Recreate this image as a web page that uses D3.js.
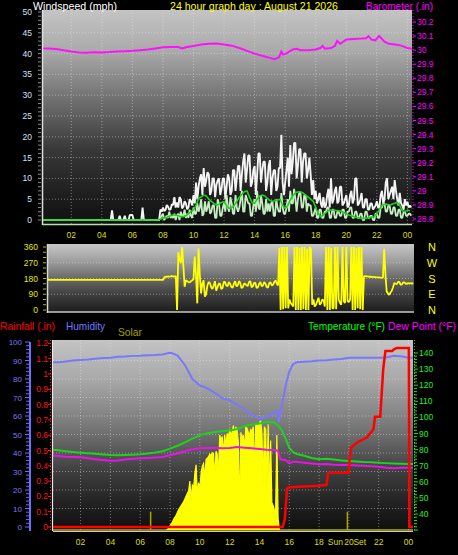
<!DOCTYPE html>
<html><head><meta charset="utf-8">
<script src="https://cdn.jsdelivr.net/npm/d3@7"></script>
<style>
html,body{margin:0;padding:0;background:#000;}
svg{display:block;}
text{font-family:"Liberation Sans",Arial,sans-serif;}
</style></head><body>
<svg id="c" width="458" height="555"></svg>
<script>
// ---------------- DATA ----------------
const timeDomain = [0.15, 24.3];            // hours covered by the graph
const hourTicks = [2,4,6,8,10,12,14,16,18,20,22,24];
const hourTickLabels = ["02","04","06","08","10","12","14","16","18","20","22","00"];
const windStepHours = 1/12;                 // gust / speed samples every 5 minutes from 00:00
const windGust = [0,0,0,0,0,0,0,0,0,0,0,0, 0,0,0,0,0,0,0,0,0,0,0,0, 0,0,0,0,0,0,0,0,0,0,0,0,
  0,0,0,0,0,0,0,0,0,0,0,0, 0,0,0,0,0,0,0,0,2.3,0,0,0, 0,0,1,0,0,0,1,0,0,0,1.2,1.2,
  1.2,0,0,0,0,0,0,0,3,0,0,0, 0,0,0,0,0,0,0,0,0,
  0,2.5,2,
  3,2.2,2.4,3.6,3.2,2.4,2.6,3.8,3.6,5.5,3,4.2,
  3,5.5,5,2.8,3.2,4.5,4,2.6,3,5,4.5,3.5,
  6,4,9,5,8,10,11,6,12.5,8,9.5,11.5,
  11,6,7,10,10,5.5,8.5,9.5,10,6,7.5,10,
  10,5,8,11,10,6,7,12,12,7,10,13,
  13,7,11,14,16,9,12,15.5,15.5,8,9,12,
  13,6,11,16,16,9,12,14,14,7,9,13,
  14.4,6,10,12,12,7,8,12.5,12.5,20.5,9,6,
  9,12,15,8,18,11,14,18.5,18.5,10,13,17,
  17,9,14,16,16,10,12,15,11,6,9.6,5,
  7,4,5,6.5,4,3,5.5,3,3.5,6,7.5,3,
  10,4,5,7,8,4,4.5,8,8,3.5,4,5,
  6,3,3.5,6,7,4,5,10,10,3.5,4,5,
  6.5,3,3,5,5,2.5,2.5,4,4,2.5,3,3.5,
  4.5,3,3,6,7,4,5,9,10,5,6,7,
  8,5,9.6,7,5,3.5,6.5,4,3.5,2.5,5,3.5,
  4.4,3,3.5,3];
const windSpeed = [0,0,0,0,0,0,0,0,0,0,0,0, 0,0,0,0,0,0,0,0,0,0,0,0, 0,0,0,0,0,0,0,0,0,0,0,0,
  0,0,0,0,0,0,0,0,0,0,0,0, 0,0,0,0,0,0,0,0,0.3,0,0,0, 0,0,0,0,0,0,0,0,0,0,0,0,
  0,0,0,0,0,0,0,0,0.5,0,0,0, 0,0,0,0,0,0,0,0,0,
  0,0.5,1,
  1.5,0,0.5,1,0.5,2,0.5,1,0.5,1.5,0,1,
  1.5,0,2,1,1,2.5,0.5,1.5,0.5,2.5,1,0.5,
  3,1.5,1.5,4,2,3,5,1,1.5,4.5,2,3,
  4.5,1.5,2,3.5,3.5,0.5,0.5,5,4,1,1,3,
  4,2,6,3,2,5.5,4,1.5,1.5,6,3,2,
  3,5,7,2,2,6,5,4,4,1,1,3.5,
  5,2,7,3,2.5,6,4,1.5,1.5,5,2,4,
  2,4,4.5,1,1,5,3,2,2,6.5,3,1.5,
  1.5,3,5,2,7,4,4,7.5,5,2,5,6.5,
  6.5,3,3,6,6,2,4,3.5,3.5,1,1,2,
  3,0.5,0.5,2.5,2.5,0.5,0.5,2,2,3,3,0.5,
  0.5,2.5,2.5,0.5,0.5,2,2,1,1,2.5,2.5,0.5,
  0.5,2,2,3,3,0.5,0.5,2,2,0.5,0.5,1.5,
  1.5,0,0,2,2,0.5,0.5,1,1,0,0,1.5,
  1.5,0.5,0.5,3,3,4,4,2,2,3.5,3.5,1.5,
  1.5,3,3,1,1,2.5,2.5,0.5,0.5,2,2,1,
  1,1.5,1.5,1];
const avgStepHours = 1/6;                   // average speed every 10 minutes from 00:00
const windAvg = [0,0,0,0,0,0,0,0,0,0,0,0,0,0,0,0,0,0,0,0,0,0,0,0,0,0,0,0,
  0,0,0,0,0,0,0,0,0,0,0,0,0,0,0,0,0,0,0,
  0.2,0.5,0.5,0.8,1,1.2,1.2,1,0.8,0.8,1,1.5,2,
  2.4,3.5,5.3,5.5,6,5.8,5,4.5,4,3.6,3.8,4.2,
  4.4,3.5,2.8,3,3.5,4.5,5.5,6.2,6.8,7,5.5,4.2,
  4,5,5.8,6,5.8,5.2,4.7,4.5,4.6,4.8,5,3.5,
  2.8,3.5,4.8,5.8,6.5,6.8,6.8,6.5,6,5.5,5,4.5,
  3,1.5,0.8,1.2,1.8,2.3,2.4,2.4,2.3,2.2,2.1,1.8,
  1.5,1.2,1,0.8,0.6,0.5,0.4,0.4,0.5,0.6,0.7,0.8,
  1.5,2.5,3.5,3.8,3.8,3.6,3.8,4,4.2,3.5,2.2,2,
  2.4,2.2];
const dirCalmValue = 172;                   // steady direction before the wind picked up
const dirStart = 7.75, dirStepHours = 1/12; // 5-minute direction samples
const windDir = [172,188,190,
  190,192,190,192,195,190,192,194,0,330,290,268,
  360,250,133,170,165,160,158,165,170,175,305,200,
  38,352,200,95,150,170,76,90,140,160,155,130,
  120,140,165,110,130,150,150,120,125,160,160,140,
  135,160,150,130,128,150,165,135,140,165,155,125,
  130,150,150,140,138,160,165,130,135,155,155,125,
  130,150,160,135,140,160,150,130,128,155,158,140,
  145,160,170,150,140,354,0,360,5,360,10,360,
  10,60,40,30,20,360,0,360,0,355,0,360,
  5,360,0,350,0,360,350,30,60,20,30,50,
  70,30,40,60,55,20,360,0,360,0,355,10,
  10,360,5,360,60,40,30,360,50,40,360,50,
  45,60,360,0,360,0,355,10,360,5,360,0,
  194,193,192,192,190,190,189,189,188,188,187,187,
  186,185,185,184,350,200,105,95,86,100,110,130,
  155,150,148,160,160,145,145,158,158,150,150,155,
  150,155,150,155];
const baroTimes = [0,0.5,1,1.5,2,2.5,3,3.5,4,4.5,5,5.5,6,6.5,7,7.5,8,8.5,9,9.25,9.5,10,10.5,11,11.5,12,12.5,13,13.5,14,14.5,15,15.3,15.6,15.75,15.85,16,16.5,16.75,17,17.5,18,18.3,18.45,18.6,19,19.25,19.4,19.6,20,20.5,21,21.3,21.45,21.65,21.9,22.15,22.5,22.8,23.2,23.6,24,24.3];
const baroValues = [30.012,30.012,30.008,30.0,29.99,29.984,29.982,29.985,29.984,29.986,29.99,29.992,29.995,30.0,30.005,30.012,30.02,30.022,30.022,30.012,30.02,30.03,30.04,30.045,30.047,30.04,30.032,30.015,29.995,29.975,29.96,29.945,29.935,29.95,29.99,29.97,29.972,30.005,30.01,30.0,30.0,30.005,30.015,30.03,30.01,30.015,30.03,30.065,30.045,30.075,30.08,30.082,30.085,30.10,30.075,30.07,30.10,30.06,30.045,30.04,30.032,30.015,30.01];
const humTimes = [0,0.5,1,1.5,2,2.5,3,3.5,4,4.5,5,5.5,6,6.5,7,7.5,7.9,8.1,8.5,9,9.5,10,10.5,11,11.5,12,12.5,13,13.5,14,14.5,15,15.2,15.3,15.4,15.6,15.8,16,16.25,16.5,17,17.5,18,18.5,19,19.5,20,20.5,21,21.5,22,22.5,23,23.5,24,24.3];
const humValues = [89,89,89.5,90,90.3,90.5,91,91.3,91.5,92,92.2,92.5,92.6,92.8,93,93.3,94,94,92.6,87.6,80,76.5,75,72.5,69.5,68.6,66,63.5,60.5,58.5,59.6,61.5,63,56.5,62,70,78,84,88,89,89.3,89.6,90,90.2,90.5,90.8,91.5,91.5,91.5,91.5,91.5,91.6,92.6,92.3,91.5,91.5];
const tempTimes = [0,0.5,1,1.5,2,2.5,3,3.5,4,4.5,5,5.5,6,6.5,7,7.5,8,8.5,9,9.5,10,10.5,11,11.5,12,12.5,13,13.5,14,14.5,15,15.25,15.5,15.75,16,16.25,16.5,17,17.5,18,18.5,19,19.5,20,20.5,21,21.5,22,22.5,23,23.5,24,24.3];
const tempValues = [80,79.6,79,78.5,78.1,77.8,77.4,77,76.6,76.5,76.6,76.8,77.1,77.6,78.2,79,80.6,82.4,84.5,86.8,89,90.2,90.9,91.4,91.8,92.8,94.5,95.6,96.2,97.3,96.8,95,92,87,81,78.5,77.3,76.2,74.8,74,74.3,73.8,73.3,72.9,72.6,72.3,72.2,71.9,71.6,71.4,71.2,71.1,71.1];
const dewTimes = [0,0.5,1,1.5,2,2.5,3,3.5,4,4.5,5,5.5,6,6.5,7,7.5,8,8.5,9,9.5,10,10.5,11,11.5,12,12.5,13,13.5,14,14.5,15,15.25,15.4,15.75,16,16.25,16.5,17,17.5,18,18.5,19,19.5,20,20.5,21,21.5,22,22.5,23,23.5,24,24.3];
const dewValues = [76.2,76,75.6,75.4,75.2,74.6,74,73.5,73.1,73.3,73.8,74.3,74.6,74.8,75.1,75.4,76.5,77.6,79,80.2,80.8,81,81,80.8,81,81.6,81.2,80.8,80.4,79.9,79.8,79.3,74,73.5,71.5,72.5,72.4,71.8,71.3,70.9,71,70.6,70.5,70.4,70.2,70,69.6,69.4,68.8,68.4,68.8,68.8,68.8];
const rainTimes = [0.15,15.55,15.7,15.85,16.0,17.0,18.0,18.5,18.6,18.7,20.0,20.05,20.15,20.6,21.2,21.5,21.65,21.75,22.1,22.2,22.3,22.45,22.9,23.0,23.2,24.02,24.06,24.3];
const rainValues = [0,0,0.05,0.25,0.26,0.265,0.27,0.275,0.35,0.355,0.355,0.45,0.52,0.555,0.585,0.62,0.64,0.72,0.72,0.87,1.03,1.15,1.15,1.16,1.17,1.17,0,0];
const solarStart = 7.75, solarStepHours = 1/12;   // 5-minute samples
const solarValues = [0,5,15,30,45,60,80,95,110,130,
  150,165,180,195,210,230,250,270,290,360,
  220,330,310,420,480,250,350,300,420,470,
  490,380,520,530,540,560,545,570,565,380,
  580,560,400,700,660,690,560,700,620,712,
  680,740,700,720,770,690,760,730,650,130,
  720,670,700,600,760,750,720,700,740,730,
  760,420,770,780,760,790,800,710,330,760,
  740,310,780,250,660,200,180,150,130,700,
  90,0];
const sunEvents = [6.7, 19.9];   // sunrise / sunset markers
const windTicks = [0,5,10,15,20,25,30,35,40,45,50];
const baroTicks = [28.8,28.9,29.0,29.1,29.2,29.3,29.4,29.5,29.6,29.7,29.8,29.9,30.0,30.1,30.2];
const dirTicks = [0,90,180,270,360];
const compassLabels = ["N","E","S","W","N"];
const humTicks = [0,10,20,30,40,50,60,70,80,90,100];
const rainTicks = [0,0.1,0.2,0.3,0.4,0.5,0.6,0.7,0.8,0.9,1.0,1.1,1.2];
const tempTicks = [40,50,60,70,80,90,100,110,120,130,140];

// ---------------- LAYOUT ----------------
const TOP = {x0:43, x1:412, y0:10, y1:225};
const MID = {x0:48, x1:414, y0:244, y1:312};
const BOT = {x0:53, x1:413, y0:340, y1:531};

const svg = d3.select("#c");
svg.append("rect").attr("width",458).attr("height",555).attr("fill","#000");
const defs = svg.append("defs");
function grad(id, stops){
  const g = defs.append("linearGradient").attr("id",id).attr("x1",0).attr("y1",0).attr("x2",0).attr("y2",1);
  stops.forEach(([o,c])=>g.append("stop").attr("offset",o).attr("stop-color",c));
}
grad("gTop", [[0,"#c4c4c4"],[0.19,"#aaaaaa"],[0.4,"#747474"],[0.65,"#383838"],[0.88,"#1c1c1c"],[1,"#101010"]]);
grad("gMid", [[0,"#c8c8c8"],[0.26,"#9c9c9c"],[0.5,"#6a6a6a"],[0.74,"#404040"],[1,"#1c1c1c"]]);
grad("gBot", [[0,"#c4c4c4"],[0.21,"#a8a8a8"],[0.47,"#747474"],[0.68,"#404040"],[0.84,"#242424"],[1,"#0e0e0e"]]);
function clip(id, P){
  defs.append("clipPath").attr("id",id).append("rect")
    .attr("x",P.x0).attr("y",P.y0).attr("width",P.x1-P.x0).attr("height",P.y1-P.y0);
}
clip("cTop",TOP); clip("cMid",MID); clip("cBot",BOT);

// scales
const xTop = d3.scaleLinear().domain(timeDomain).range([TOP.x0, TOP.x1]);
const xMid = d3.scaleLinear().domain(timeDomain).range([MID.x0, MID.x1]);
const xBot = d3.scaleLinear().domain(timeDomain).range([BOT.x0, BOT.x1]);
const yWind = d3.scaleLinear().domain([0,50]).range([220,12]);
const yBaro = d3.scaleLinear().domain([28.8,30.2]).range([219,22]);
const yDir = d3.scaleLinear().domain([0,360]).range([310,247]);
const yHum = d3.scaleLinear().domain([0,100]).range([527,342]);
const yRain = d3.scaleLinear().domain([0,1.2]).range([527,343.4]);
const yTemp = d3.scaleLinear().domain([40,140]).range([514,353]);
const ySolar = d3.scaleLinear().domain([0,1400]).range([530,340]);

const gridCol = "#e8e8e8";
function panelBg(P, g){
  svg.append("rect").attr("x",P.x0).attr("y",P.y0).attr("width",P.x1-P.x0).attr("height",P.y1-P.y0).attr("fill",`url(#${g})`);
}
function hGrid(P, ys){
  svg.append("g").selectAll("line").data(ys).join("line")
    .attr("x1",P.x0).attr("x2",P.x1).attr("y1",d=>d).attr("y2",d=>d)
    .attr("stroke",gridCol).attr("stroke-opacity",0.45).attr("stroke-dasharray","1,2");
}
function vGrid(P, x){
  svg.append("g").selectAll("line").data(hourTicks).join("line")
    .attr("x1",d=>x(d)).attr("x2",d=>x(d)).attr("y1",P.y0).attr("y2",P.y1)
    .attr("stroke",gridCol).attr("stroke-opacity",0.45).attr("stroke-dasharray","1,2");
}
function xLabels(x, y){
  svg.append("g").selectAll("text").data(hourTicks).join("text")
    .attr("x",d=>x(d)).attr("y",y).attr("text-anchor","middle")
    .attr("font-size",8.5).attr("fill","#dede00").text((d,i)=>hourTickLabels[i]);
}
function title(x, y, txt, col, len, size){
  return svg.append("text").attr("x",x).attr("y",y).attr("font-size",size||11).attr("fill",col)
    .attr("textLength",len).attr("lengthAdjust","spacingAndGlyphs").text(txt);
}
function seriesXY(times, vals){ return times.map((t,i)=>[t, vals[i]]); }
const stepped = (vals, start, step) => vals.map((v,i)=>[start + i*step, v]);

// ---------------- TOP PANEL: wind + barometer ----------------
panelBg(TOP,"gTop");
hGrid(TOP, windTicks.filter(d=>d>0&&d<50).map(yWind));
vGrid(TOP, xTop);
const gTop = svg.append("g").attr("clip-path","url(#cTop)");
const lineTop = d3.line().x(d=>xTop(d[0])).y(d=>yWind(d[1]));
gTop.append("path").attr("d",lineTop(stepped(windGust,0,windStepHours))).attr("fill","none").attr("stroke","#f4f4f4").attr("stroke-width",1.9).attr("stroke-linejoin","bevel");
gTop.append("path").attr("d",lineTop(stepped(windSpeed,0,windStepHours))).attr("fill","none").attr("stroke","#c4eec0").attr("stroke-width",1.8).attr("stroke-linejoin","bevel");
gTop.append("path").attr("d",lineTop(stepped(windAvg,0,avgStepHours))).attr("fill","none").attr("stroke","#1ed01e").attr("stroke-width",1.6);
const lineBaro = d3.line().x(d=>xTop(d[0])).y(d=>yBaro(d[1]));
gTop.append("path").attr("d",lineBaro(seriesXY(baroTimes,baroValues))).attr("fill","none").attr("stroke","#ff10ff").attr("stroke-width",2);
// frame
svg.append("line").attr("x1",TOP.x0-0.5).attr("x2",TOP.x0-0.5).attr("y1",TOP.y0).attr("y2",TOP.y1).attr("stroke","#e0e0e0").attr("stroke-width",1.5);
svg.append("line").attr("x1",TOP.x0).attr("x2",TOP.x1).attr("y1",TOP.y1-0.5).attr("y2",TOP.y1-0.5).attr("stroke","#b8e0b8").attr("stroke-width",1.5);
// wind axis
svg.append("g").selectAll("line").data(d3.range(0,51,1)).join("line")
  .attr("x1",38).attr("x2",41).attr("y1",d=>yWind(d)).attr("y2",d=>yWind(d)).attr("stroke","#8a8a8a");
svg.append("g").selectAll("text").data(windTicks).join("text")
  .attr("x",32).attr("y",d=>yWind(d)+3).attr("text-anchor","end").attr("font-size",8.5)
  .attr("fill","#d4e0ff").text(d=>d);
// baro axis
svg.append("line").attr("x1",TOP.x1+1).attr("x2",TOP.x1+1).attr("y1",TOP.y0).attr("y2",TOP.y1)
  .attr("stroke","#ff00ff").attr("stroke-dasharray","1,2");
svg.append("g").selectAll("line").data(baroTicks).join("line")
  .attr("x1",TOP.x1+1).attr("x2",TOP.x1+4).attr("y1",d=>yBaro(d)).attr("y2",d=>yBaro(d)).attr("stroke","#ff00ff");
svg.append("g").selectAll("text").data(baroTicks).join("text")
  .attr("x",417).attr("y",d=>yBaro(d)+3).attr("font-size",8.5).attr("fill","#ff00ff")
  .text(d=>String(+d.toFixed(1)));
xLabels(xTop, 238);
title(33, 10, "Windspeed (mph)", "#ffffff", 84);
title(170, 10, "24 hour graph day : August 21 2026", "#ffff00", 168);
title(366, 10, "Barometer (.in)", "#ff00ff", 67);

// ---------------- MIDDLE PANEL: wind direction ----------------
panelBg(MID,"gMid");
hGrid(MID, [90,180,270].map(yDir));
const gMid = svg.append("g").attr("clip-path","url(#cMid)");
const lineDir = d3.line().x(d=>xMid(d[0])).y(d=>yDir(d[1]));
const dirSeries = [[timeDomain[0], dirCalmValue]].concat(stepped(windDir, dirStart, dirStepHours));
gMid.append("path").attr("d",lineDir(dirSeries)).attr("fill","none").attr("stroke","#ffff00").attr("stroke-width",1.8).attr("stroke-linejoin","bevel");
svg.append("line").attr("x1",MID.x0-0.5).attr("x2",MID.x0-0.5).attr("y1",MID.y0).attr("y2",MID.y1+1).attr("stroke","#d8d8d8").attr("stroke-width",1.5);
svg.append("line").attr("x1",MID.x0).attr("x2",MID.x1).attr("y1",MID.y1).attr("y2",MID.y1).attr("stroke","#c8c8c8").attr("stroke-width",1.5);
svg.append("g").selectAll("line").data(d3.range(0,361,30)).join("line")
  .attr("x1",43).attr("x2",46).attr("y1",d=>yDir(d)).attr("y2",d=>yDir(d)).attr("stroke","#b8b800");
svg.append("g").selectAll("text").data(dirTicks).join("text")
  .attr("x",38).attr("y",d=>yDir(d)+3).attr("text-anchor","end").attr("font-size",8.5)
  .attr("fill","#e6e600").text(d=>d);
svg.append("g").selectAll("text").data(dirTicks).join("text")
  .attr("x",432).attr("y",d=>yDir(d)+4).attr("text-anchor","middle").attr("font-size",11)
  .attr("fill","#ffff00").text((d,i)=>compassLabels[i]);

// ---------------- BOTTOM PANEL ----------------
panelBg(BOT,"gBot");
hGrid(BOT, humTicks.filter(d=>d>0&&d<100).map(yHum));
vGrid(BOT, xBot);
const gBot = svg.append("g").attr("clip-path","url(#cBot)");
const solarSeries = [[timeDomain[0],0]].concat(stepped(solarValues, solarStart, solarStepHours), [[timeDomain[1],0]]);
gBot.append("path").attr("d", d3.area().x(d=>xBot(d[0])).y0(ySolar(0)).y1(d=>ySolar(d[1]))(solarSeries))
  .attr("fill","#ffff00").attr("stroke","#ffff00").attr("stroke-width",1.2);
gBot.append("g").selectAll("line").data(sunEvents).join("line")
  .attr("x1",d=>xBot(d)).attr("x2",d=>xBot(d)).attr("y1",ySolar(0)).attr("y2",ySolar(135))
  .attr("stroke","#a8a800").attr("stroke-width",1.5);
const lb = (ys) => d3.line().x(d=>xBot(d[0])).y(d=>ys(d[1]));
gBot.append("path").attr("d",lb(yHum)(seriesXY(humTimes,humValues))).attr("fill","none").attr("stroke","#7878ff").attr("stroke-width",2);
gBot.append("path").attr("d",lb(yTemp)(seriesXY(dewTimes,dewValues))).attr("fill","none").attr("stroke","#e614e6").attr("stroke-width",2);
gBot.append("path").attr("d",lb(yTemp)(seriesXY(tempTimes,tempValues))).attr("fill","none").attr("stroke","#1ed21e").attr("stroke-width",2);
gBot.append("path").attr("d",lb(yRain)(seriesXY(rainTimes,rainValues))).attr("fill","none").attr("stroke","#ff0000").attr("stroke-width",2.5);
// frame
svg.append("line").attr("x1",BOT.x0-0.5).attr("x2",BOT.x0-0.5).attr("y1",BOT.y0).attr("y2",BOT.y1).attr("stroke","#e8e8e8").attr("stroke-width",1.2);
svg.append("line").attr("x1",BOT.x0).attr("x2",BOT.x1).attr("y1",BOT.y1+0.5).attr("y2",BOT.y1+0.5).attr("stroke","#c8c8c8").attr("stroke-width",1);
// humidity axis
svg.append("line").attr("x1",30).attr("x2",30).attr("y1",342).attr("y2",BOT.y1).attr("stroke","#6e6eff").attr("stroke-width",2);
svg.append("g").selectAll("line").data(d3.range(0,101,2)).join("line")
  .attr("x1",d=>d%10===0?25:26).attr("x2",30).attr("y1",d=>yHum(d)).attr("y2",d=>yHum(d)).attr("stroke","#6e6eff");
svg.append("g").selectAll("text").data(humTicks).join("text")
  .attr("x",22).attr("y",d=>yHum(d)+3).attr("text-anchor","end").attr("font-size",8)
  .attr("fill","#7878ff").text(d=>d);
// rain axis
svg.append("line").attr("x1",50.5).attr("x2",50.5).attr("y1",BOT.y0).attr("y2",BOT.y1).attr("stroke","#ff2020").attr("stroke-dasharray","1,2");
svg.append("g").selectAll("line").data(rainTicks).join("line")
  .attr("x1",48).attr("x2",51).attr("y1",d=>yRain(d)).attr("y2",d=>yRain(d)).attr("stroke","#ff2020");
svg.append("g").selectAll("text").data(rainTicks).join("text")
  .attr("x",48).attr("y",d=>yRain(d)+3).attr("text-anchor","end").attr("font-size",8.5)
  .attr("fill","#ff1010").text(d=>String(+d.toFixed(1)));
// temperature axis
svg.append("line").attr("x1",414.5).attr("x2",414.5).attr("y1",BOT.y0).attr("y2",BOT.y1).attr("stroke","#20e020").attr("stroke-dasharray","1,2");
svg.append("g").selectAll("line").data(d3.range(30,141,2)).join("line")
  .attr("x1",414).attr("x2",d=>d%10===0?418:417).attr("y1",d=>yTemp(d)).attr("y2",d=>yTemp(d)).attr("stroke","#20e020");
svg.append("g").selectAll("text").data(tempTicks).join("text")
  .attr("x",419).attr("y",d=>yTemp(d)+3).attr("font-size",8.5)
  .attr("fill","#22ee22").text(d=>d);
// legend titles
title(0, 330, "Rainfall (.in)", "#ff0000", 55);
title(66, 330, "Humidity", "#7878ff", 39);
title(118, 336, "Solar", "#a0a000", 24);
title(308, 330, "Temperature (°F)", "#00ff00", 77);
title(388, 330, "Dew Point (°F)", "#ff00ff", 68, 10.2);
xLabels(xBot, 545);
// sunset marker label, split around the "20" tick label
const sx = xBot(sunEvents[1]);
svg.append("text").attr("x",sx-4.5).attr("y",545).attr("text-anchor","end").attr("font-size",8.5)
  .attr("fill","#dede00").text("Sun");
svg.append("text").attr("x",sx+6).attr("y",545).attr("text-anchor","start").attr("font-size",8.5)
  .attr("fill","#dede00").text("Set");
</script>
</body></html>
